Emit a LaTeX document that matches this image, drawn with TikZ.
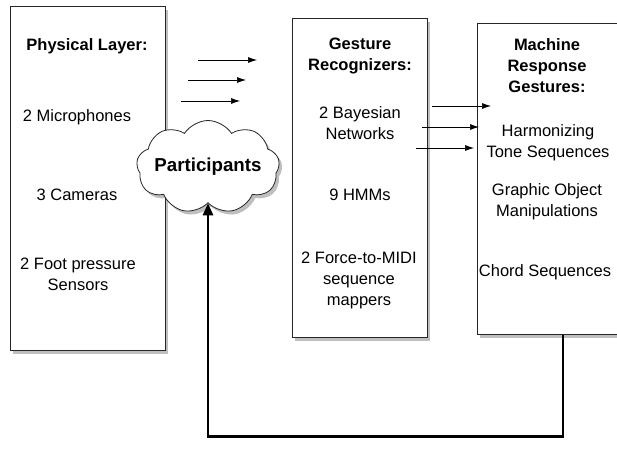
\documentclass[tikz,border=0pt]{standalone}
\usepackage{fontspec}
\setmainfont{Liberation Sans}
\usetikzlibrary{shapes.symbols,shadows,arrows.meta,calc}
\begin{document}
\begin{tikzpicture}[x=1pt,y=-1pt,
  shadowed/.style={drop shadow={shadow xshift=3pt,shadow yshift=-3.5pt,fill=black!50,opacity=0.5}},
  box/.style={draw=black!85, line width=0.8pt, fill=white, shadowed, anchor=north west, inner sep=0pt},
  lbl/.style={font=\fontsize{16.5}{21}\selectfont, align=center, inner sep=0pt},
  hd/.style={font=\fontsize{16.5}{21}\selectfont\bfseries, align=center, inner sep=0pt},
  thinarrow/.style={-{Latex[length=9pt,width=6pt]}, line width=0.7pt},
  feedback/.style={line width=2.8pt, -{Triangle[length=12pt,width=10pt]}},
]
\useasboundingbox (0,0) rectangle (617,465);

% boxes
\node[box, minimum width=155pt, minimum height=344pt] (phys) at (10,6) {};
\node[box, minimum width=135pt, minimum height=319pt] (gest) at (292,18) {};
\node[box, minimum width=160pt, minimum height=311pt] (resp) at (477,23) {};

% physical layer texts
\node[hd]  (physT) at (87,46) {Physical Layer:};
\node[lbl] (mic)   at (77,117) {2 Microphones};
\node[lbl] (cam)   at (77,195) {3 Cameras};
\node[lbl] (foot)  at (78,274) {2 Foot pressure\\Sensors};

% gesture recognizer texts
\node[hd]  (gestT) at (360,56) {Gesture\\Recognizers:};
\node[lbl] (bay)   at (360,123) {2 Bayesian\\Networks};
\node[lbl] (hmm)   at (360,195) {9 HMMs};
\node[lbl] (force) at (359,280) {2 Force-to-MIDI\\sequence\\mappers};

% machine response texts
\node[hd]  (respT) at (547,66) {Machine\\Response\\Gestures:};
\node[lbl] (harm)  at (548,143) {Harmonizing\\Tone Sequences};
\node[lbl] (graph) at (547,202) {Graphic Object\\Manipulations};
\node[lbl] (chord) at (545,272) {Chord Sequences};

% participants cloud
\node[cloud, draw=black!85, line width=0.8pt, fill=white, shadowed,
      cloud puffs=9, cloud puff arc=115, aspect=1.55,
      minimum width=143pt, minimum height=93pt, inner sep=0pt] (part) at (208,167) {};
\node[font=\fontsize{18.7}{22}\selectfont\bfseries, inner sep=0pt] (partT) at (part.center) {Participants};

% small arrows (physical -> recognizers)
\coordinate (a1s) at (198,60);  \coordinate (a1e) at (257,60);
\coordinate (a2s) at (188,80);  \coordinate (a2e) at (246,80);
\coordinate (a3s) at (181,101); \coordinate (a3e) at (240,101);
\draw[thinarrow] (a1s) -- (a1e);
\draw[thinarrow] (a2s) -- (a2e);
\draw[thinarrow] (a3s) -- (a3e);

% small arrows (recognizers -> responses)
\coordinate (b1s) at (432,106); \coordinate (b1e) at (491,106);
\coordinate (b2s) at (422,127); \coordinate (b2e) at (479,127);
\coordinate (b3s) at (416,148); \coordinate (b3e) at (474,148);
\draw[thinarrow] (b1s) -- (b1e);
\draw[thinarrow] (b2s) -- (b2e);
\draw[thinarrow] (b3s) -- (b3e);

% feedback arrow
\coordinate (fbs) at ($(resp.south west)+(86,0)$);
\draw[feedback] (fbs) -- ++(0,102) -| (part.south);
\end{tikzpicture}
\end{document}
